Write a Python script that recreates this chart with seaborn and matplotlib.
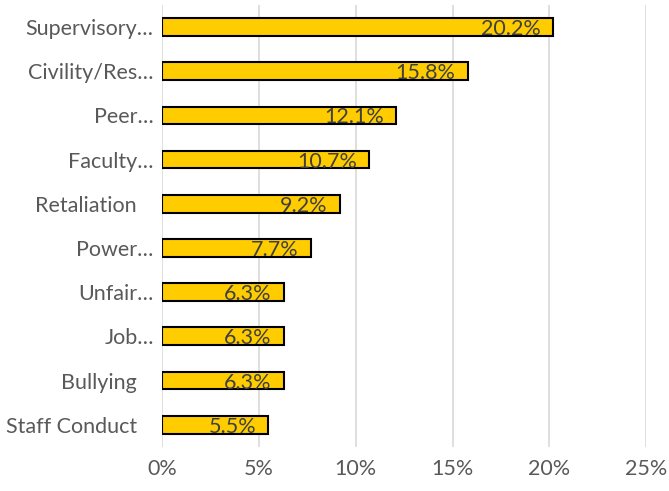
import matplotlib
matplotlib.use("Agg")
import matplotlib.pyplot as plt
import seaborn as sns
import pandas as pd
from matplotlib.ticker import FuncFormatter, MultipleLocator

categories = ["Supervisory…", "Civility/Res…", "Peer…", "Faculty…", "Retaliation   ",
              "Power…", "Unfair…", "Job…", "Bullying   ", "Staff Conduct   "]
values = [20.2, 15.8, 12.1, 10.7, 9.2, 7.7, 6.3, 6.3, 6.3, 5.5]
labels = ["20.2%", "15.8%", "12.1%", "10.7%", "9.2%", "7.7%", "6.3%", "6.3%", "6.3%", "5.5%"]

sns.set_theme(style="white")
plt.rcParams['font.family'] = ['Lato', 'DejaVu Sans']

df = pd.DataFrame({"cat": categories, "val": values})

fig = plt.figure(figsize=(6.69, 4.91), dpi=100)
ax = fig.add_axes([0.242, 0.09, 0.724, 0.9])
sns.barplot(data=df, x="val", y="cat", orient="h", color="#FFCC00",
            edgecolor="black", linewidth=1.5, width=0.4, saturation=1, ax=ax)

ax.set_xlim(0, 25)
ax.set_ylim(9.5, -0.5)
ax.xaxis.set_major_locator(MultipleLocator(5))
ax.xaxis.set_major_formatter(FuncFormatter(lambda v, p: f"{v:.0f}%"))
ax.grid(axis="x", color="#D9D9D9", linewidth=1.2)
ax.set_axisbelow(True)
for s in ax.spines.values():
    s.set_visible(False)
ax.set_xlabel("")
ax.set_ylabel("")
ax.tick_params(axis="both", length=0, colors="#595959", labelsize=15.5, pad=6)
ax.tick_params(axis="x", pad=9)

for i, (v, lab) in enumerate(zip(values, labels)):
    ax.annotate(lab, xy=(v, i), xytext=(-9, -1.5), textcoords="offset points",
                ha="right", va="center", fontsize=15.5, color="#404040")

fig.savefig("out.png", dpi=100)
